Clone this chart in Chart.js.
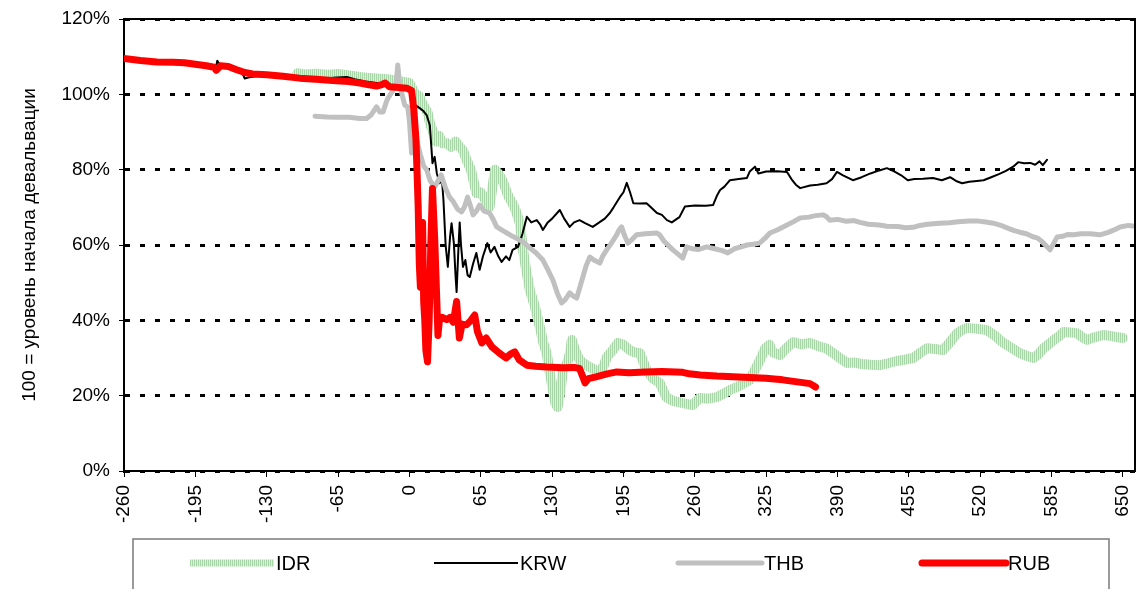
<!DOCTYPE html>
<html>
<head>
<meta charset="utf-8">
<title>Курсы валют после девальвации</title>
<script src="https://cdn.jsdelivr.net/npm/chart.js@4.4.0/dist/chart.umd.min.js"></script>
<style>
  html, body { margin: 0; padding: 0; background: #fff; }
  canvas { display: block; }
</style>
</head>
<body>
<canvas id="chart" width="1141" height="589"></canvas>
<script>
// дни относительно начала девальвации и уровень (100 = начало девальвации)
const currencyLabels = ["IDR", "KRW", "THB", "RUB"];
const yAxisTitle = "100 = уровень начала девальвации";

const idrDays = [-102, -95, -85, -75, -65, -55, -45, -39, -30, -20, -9, 0, 5, 9, 12, 16.7, 19, 21, 24, 27, 30, 34, 38, 42, 46, 49, 52, 56, 61, 65, 69, 73, 76, 78, 81, 85, 90, 94, 97, 100.6, 103.5, 106, 109.7, 114, 118.8, 122, 125, 128, 130.7, 133, 135, 137, 140, 143, 146, 148, 151, 155, 160, 164, 168, 173, 177, 180, 185, 190, 195, 201, 205, 210, 213, 216, 222, 228, 231, 234, 240, 249, 258, 264.6, 272, 280, 286, 292, 300, 310, 315, 319.5, 324, 328, 331, 337.6, 343, 349.5, 357, 364.8, 372, 380, 386, 392, 398.6, 405, 412, 420, 428.6, 436, 444, 452, 459, 466, 471.6, 479, 486, 492, 499, 504, 508, 516, 526, 534, 541, 548, 556, 562, 568.6, 573, 577.7, 583, 587, 592, 596, 602, 608, 613, 617.4, 624, 632, 640, 645, 650];
const idrValues = [105.6, 105.3, 105.5, 105.2, 105.4, 105.0, 104.6, 104.4, 104.2, 104.0, 103.5, 103, 100.2, 99.5, 97.5, 95, 92, 90.5, 87.5, 89, 87, 87, 86, 87.5, 86, 85, 82.6, 80, 73.8, 74, 72, 70.1, 76, 80, 79, 77, 73, 71, 69, 65.8, 58.7, 54, 48, 44, 38.2, 34, 31.3, 26, 21.5, 18, 17, 20, 26.8, 28, 31, 34.8, 32, 29.5, 28.3, 27.6, 27, 26, 28, 30.3, 32, 34, 33.5, 32, 31.5, 31.3, 29, 26.8, 24.5, 23.4, 21.5, 19.6, 18.6, 18, 17.5, 19.4, 19.2, 19.6, 20.5, 21.5, 22.5, 24.2, 27, 29.5, 32.5, 33.5, 31.5, 30.8, 32.5, 34.2, 33.6, 34, 33.2, 32.5, 31.3, 30, 28.7, 28.8, 28.4, 28.2, 28.1, 28.6, 29.2, 29.6, 30, 31.5, 32.6, 32.4, 32.1, 34, 36.6, 37.5, 38, 37.8, 37.4, 35.8, 34, 32.8, 31.3, 30.6, 30, 31, 32.6, 33.8, 34.8, 35.8, 36.9, 36.8, 36.6, 35.5, 34.8, 35.5, 36.1, 35.8, 35.5, 35.3];

const krwDays = [-260, -250, -235, -220, -205, -190, -180, -177, -175, -172, -165, -158, -152, -150, -146, -140, -130, -120, -110, -100, -85, -70, -57, -50, -40, -30, -20, -10, 0, 3, 5, 9, 13, 15.7, 18.6, 20, 21, 23, 25, 27.6, 29.5, 31, 33, 35, 37, 38.4, 40.5, 42, 43, 44.5, 45.8, 47, 48.8, 51, 53, 55, 58, 61, 64, 67, 71, 74, 77.5, 81, 84, 88, 91, 94, 99, 103, 107, 111, 116, 119, 121.6, 126, 130, 137, 141, 146, 150, 155, 160, 167, 173, 178, 182.6, 186, 191.7, 195, 198, 201, 204, 210, 216, 220, 225.5, 230, 234.6, 239, 246, 251, 260, 270, 276.6, 280, 283, 287, 292, 300, 307.5, 310, 314.8, 318, 325, 335, 344, 348, 352, 356, 365, 372, 380, 385, 389.5, 395, 404, 412, 420, 428, 435, 442, 448, 454, 460, 468, 477, 485, 492.5, 498, 503.5, 510, 517, 523, 530, 537, 543, 550, 554.6, 560, 565.6, 570, 574, 577, 580.8];
const krwValues = [109.6, 109.2, 108.8, 108.4, 108.2, 108.0, 107.2, 106.3, 108.9, 107.5, 107.0, 106.5, 105.5, 104.2, 104.5, 104.8, 104.9, 104.7, 104.6, 104.5, 104.3, 104.4, 104.6, 104.0, 103.4, 103.0, 102.6, 101.8, 101.4, 99, 97.2, 96.4, 95.5, 94.5, 91.8, 86, 81.7, 83.4, 79, 76.4, 78, 72, 60, 54.2, 62, 65.8, 60.5, 52, 47.5, 58, 66, 60, 54.2, 56, 52, 51.5, 55, 57.9, 53.4, 57, 60.5, 58, 59.5, 57, 55.5, 57, 56, 58.7, 59.5, 63, 67.5, 66, 66.6, 65.5, 64, 66, 67, 69.3, 67, 64.8, 66, 66.6, 65.8, 64.8, 66, 67, 68.5, 70, 72.7, 74, 76.5, 74, 71.1, 71, 71.1, 70, 68.5, 68, 66.6, 66, 67.4, 70.2, 70.5, 70.4, 70.6, 73, 74.6, 75.5, 77.2, 77.5, 77.8, 79.5, 80.8, 79, 79.5, 79.6, 79.4, 77.5, 76, 75.1, 75.8, 76, 76.4, 77.5, 79.4, 78.5, 77.2, 78, 79, 79.8, 80.4, 79.5, 78.5, 77.2, 77.5, 77.6, 77.8, 77.2, 78, 77, 76.4, 76.8, 77, 77.2, 78, 78.8, 79.6, 80.8, 82, 81.7, 81.8, 81.3, 82.2, 81.2, 82.6];

const thbDays = [-86, -75, -65, -55, -45, -39, -35, -30, -27, -24, -21, -19.5, -15, -12, -10.6, -9, -7, -4.3, -1.5, 0, 2, 4, 6.6, 10, 13, 15.8, 19, 23, 26, 29, 33, 36.6, 40, 44, 47.5, 50, 53, 56, 58, 61, 64, 68, 73, 76, 79.5, 84, 88.6, 94, 100.6, 105, 109.7, 115, 121.6, 126, 130.7, 135, 138.7, 142, 146, 149, 152.4, 155, 158, 161, 164.4, 168, 173.5, 176, 179.7, 184, 188.8, 191, 193.3, 196, 199, 203, 207, 215, 225.5, 228, 232, 235.5, 240, 245, 249, 252.6, 258, 263, 270.8, 278, 285, 290, 296, 302, 307.5, 313, 319, 324, 328.4, 335, 344, 350, 356, 364, 370, 377, 380, 383, 390, 398, 405, 410.5, 418, 428, 435, 445, 452, 459, 465, 472, 483, 492, 500, 510, 517, 525, 532, 538, 545, 551, 556, 562, 568, 571.8, 576, 580, 583.6, 587, 590, 595, 600, 605, 612, 620, 629, 636, 642, 647.5, 655, 661];
const thbValues = [94.2, 94.0, 93.9, 93.9, 93.6, 93.6, 94.5, 96.7, 95.3, 95.3, 98, 99, 101, 103, 107.8, 103, 100.3, 97.2, 96.6, 93, 84.4, 86, 87.9, 84, 81, 79.9, 77, 75.4, 77, 78.6, 75, 72.7, 71.5, 69.5, 68.8, 70, 72.7, 70, 68, 69, 70.6, 69, 68.5, 67, 64.8, 64, 63.2, 62.3, 61.3, 60.5, 59.2, 58, 56, 53.5, 50.7, 47, 44.6, 45.5, 47.3, 46.5, 45.9, 48.5, 51.5, 54.5, 56.8, 56, 55.2, 57, 58.7, 60.5, 62.7, 64, 64.8, 62.5, 60.5, 61.5, 62.7, 63, 63.2, 62.7, 61, 60, 58.7, 57.5, 56.5, 59.5, 59, 58.8, 59.5, 59, 58.5, 57.9, 59, 59.5, 60, 60.2, 60.5, 61.8, 63.2, 64, 65.3, 66.2, 67.2, 67.4, 67.8, 68, 67.5, 66.6, 66.8, 66.3, 66.5, 66, 65.5, 65.3, 65, 64.9, 64.6, 64.7, 65.2, 65.5, 65.8, 65.9, 66.2, 66.4, 66.4, 66.1, 65.8, 65.3, 64.5, 63.8, 63.4, 63, 62.2, 61.9, 61, 59.8, 58.7, 60.5, 62.1, 62.3, 62.8, 62.7, 63, 63, 62.7, 63.3, 64, 64.8, 65.2, 65];

const rubDays = [-260, -245, -230, -215, -205, -195, -185, -178, -176, -172, -165, -158, -150, -143, -130, -115, -100, -85, -70, -55, -45, -38, -30, -25, -22, -18, -10, -2, 2, 4, 6, 8, 9, 10, 11, 12, 13, 14, 15, 16.5, 18, 19.5, 21, 23, 25, 26, 27.5, 30, 34, 37, 40, 43, 45.5, 48, 52, 56, 59.5, 62, 66, 70, 75, 82, 88, 92, 96, 100, 107, 115, 125, 140, 150, 155, 158, 160, 163, 170, 180, 189, 200, 215, 230, 249, 255, 265, 280, 295, 310, 325, 340, 355, 365, 370];
const rubValues = [109.5, 109.0, 108.6, 108.5, 108.4, 108.0, 107.6, 107.2, 106.4, 107.6, 107.4, 106.6, 105.8, 105.4, 105.2, 104.8, 104.3, 104.0, 103.7, 103.4, 103.0, 102.6, 102.2, 102.6, 103.0, 102.0, 101.8, 101.6, 101.0, 96, 88, 70, 55, 48.8, 60, 66, 45, 40, 32, 29, 40, 60, 75, 62, 45, 36, 40.5, 40.8, 40.2, 40.8, 39.5, 45, 35.3, 39, 38.8, 40, 41.4, 37, 34, 35.3, 33, 31.3, 30, 31, 31.6, 29.5, 28.1, 27.8, 27.6, 27.4, 27.5, 27.2, 25, 23.4, 24.5, 25, 25.8, 26.3, 26.1, 26.3, 26.4, 26.2, 25.8, 25.5, 25.2, 25, 24.8, 24.6, 24.2, 23.6, 23.2, 22.3];

function toPoints(days, values) {
  return days.map((d, i) => ({ x: d, y: values[i] }));
}

// штриховка для IDR: тонкие вертикальные зелёные полоски
function makeHatch() {
  const c = document.createElement("canvas");
  c.width = 2;
  c.height = 1;
  const g = c.getContext("2d");
  g.fillStyle = "#dcefdc";
  g.fillRect(0, 0, 2, 1);
  g.fillStyle = "#a8d6a8";
  g.fillRect(0, 0, 1, 1);
  return g.createPattern(c, "repeat");
}

Chart.defaults.font.family = "'Liberation Sans', Arial, sans-serif";
Chart.defaults.font.size = 19;
Chart.defaults.color = "#000";

const plotFrame = {
  id: "plotFrame",
  afterDatasetsDraw(chart) {
    const { ctx, chartArea } = chart;
    ctx.save();
    ctx.strokeStyle = "#000";
    ctx.lineWidth = 2;
    ctx.beginPath();
    ctx.moveTo(chartArea.left, chartArea.top);
    ctx.lineTo(chartArea.right, chartArea.top);
    ctx.lineTo(chartArea.right, chartArea.bottom);
    ctx.stroke();
    ctx.restore();
  }
};

const boxLegend = {
  id: "boxLegend",
  afterDraw(chart) {
    const ctx = chart.ctx;
    ctx.save();
    ctx.strokeStyle = "#7a7a7a";
    ctx.lineWidth = 1.5;
    ctx.strokeRect(133, 539, 976, 80);
    ctx.font = "20px 'Liberation Sans', Arial, sans-serif";
    ctx.textBaseline = "middle";
    ctx.fillStyle = "#000";
    chart.data.datasets.forEach(function (ds, i) {
      const x0 = 190 + i * 244;
      const y = 563;
      ctx.strokeStyle = ds.borderColor;
      ctx.lineWidth = ds.legendWidth;
      ctx.lineCap = ds.legendCap;
      ctx.beginPath();
      ctx.moveTo(x0, y);
      ctx.lineTo(x0 + 84, y);
      ctx.stroke();
      ctx.fillText(ds.label, x0 + 86, y + 1);
    });
    ctx.restore();
  }
};

new Chart(document.getElementById("chart"), {
  type: "line",
  data: {
    datasets: [
      { label: currencyLabels[0], data: toPoints(idrDays, idrValues), borderColor: makeHatch(), borderWidth: 10, order: 4, legendWidth: 7, legendCap: "butt" },
      { label: currencyLabels[1], data: toPoints(krwDays, krwValues), borderColor: "#000000", borderWidth: 2, order: 3, legendWidth: 2, legendCap: "butt" },
      { label: currencyLabels[2], data: toPoints(thbDays, thbValues), borderColor: "#c0c0c0", borderWidth: 5, order: 2, legendWidth: 5, legendCap: "round" },
      { label: currencyLabels[3], data: toPoints(rubDays, rubValues), borderColor: "#ff0000", borderWidth: 7, order: 1, legendWidth: 7, legendCap: "round" }
    ]
  },
  options: {
    responsive: false,
    animation: false,
    events: [],
    layout: { padding: { top: 19, right: 6, bottom: 0, left: 0 } },
    elements: {
      point: { radius: 0 },
      line: { tension: 0, borderJoinStyle: "round", borderCapStyle: "round" }
    },
    plugins: { legend: { display: false }, tooltip: { enabled: false } },
    scales: {
      x: {
        type: "linear",
        min: -260,
        max: 661,
        afterFit: function (scale) {
          scale.height = 118;
          scale.paddingLeft = 0;
          scale.paddingRight = 0;
        },
        ticks: {
          stepSize: 65,
          includeBounds: false,
          autoSkip: false,
          minRotation: 90,
          maxRotation: 90,
          padding: 8,
          callback: function (v) { return String(v); }
        },
        grid: { drawOnChartArea: false, tickLength: 6, tickColor: "#000", tickWidth: 1 },
        border: { color: "#000", width: 2 }
      },
      y: {
        min: 0,
        max: 120,
        afterFit: function (scale) {
          scale.width = 124;
          scale.paddingTop = 0;
          scale.paddingBottom = 0;
        },
        ticks: {
          stepSize: 20,
          padding: 9,
          callback: function (v) { return v + "%"; }
        },
        grid: { color: "#000", lineWidth: 3, tickLength: 5, tickColor: "#000", tickWidth: 1, tickBorderDash: [] },
        border: { color: "#000", width: 2, dash: [5, 10] },
        title: { display: true, text: yAxisTitle, font: { size: 19 }, padding: { top: 18, bottom: 0 } }
      }
    }
  },
  plugins: [plotFrame, boxLegend]
});
</script>
</body>
</html>
